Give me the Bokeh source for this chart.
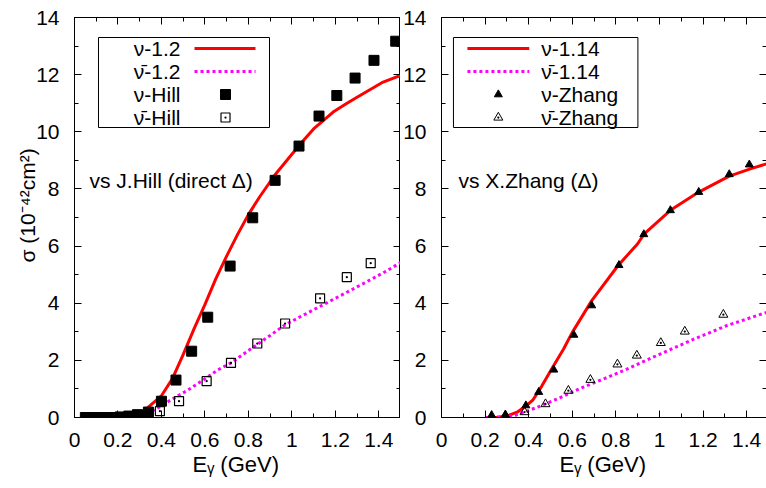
import math
from bokeh.plotting import figure
from bokeh.models import Range1d, LinearAxis, FixedTicker, CustomJSTickFormatter, Label, Title
from bokeh.layouts import row
from bokeh.embed import file_html
from bokeh.resources import INLINE

FONT = "Liberation Sans"
FS = "21px"

# ---------------- tick values ----------------
x_major = [0, 0.2, 0.4, 0.6, 0.8, 1.0, 1.2, 1.4]
x_minor = [0.1, 0.3, 0.5, 0.7, 0.9, 1.1, 1.3, 1.5]
y_major = [0, 2, 4, 6, 8, 10, 12, 14]
y_minor = [1, 3, 5, 7, 9, 11, 13]

# ---------------- left panel data (vs J.Hill) ----------------
nu12_x = [0.05, 0.10, 0.15, 0.20, 0.25, 0.28, 0.33, 0.40, 0.45, 0.50, 0.55, 0.60, 0.65, 0.70,
          0.75, 0.80, 0.85, 0.92, 1.04, 1.10, 1.19, 1.25, 1.30, 1.42, 1.50]
nu12_y = [0.0, 0.0, 0.0, 0.0, 0.01, 0.04, 0.30, 0.76, 1.35, 2.20, 3.10, 3.95, 4.85, 5.65,
          6.40, 7.10, 7.70, 8.47, 9.58, 10.10, 10.69, 10.98, 11.21, 11.74, 11.97]

nubar12_x = [0.28, 0.32, 0.35, 0.39, 0.44, 0.52, 0.60, 0.66, 0.72, 0.80, 0.90, 0.97, 1.10,
             1.20, 1.30, 1.42, 1.50]
nubar12_y = [0.0, 0.08, 0.19, 0.36, 0.60, 0.95, 1.35, 1.67, 1.91, 2.34, 2.87, 3.25, 3.77,
             4.17, 4.57, 5.06, 5.42]

hill_nu_x = [0.05, 0.065, 0.08, 0.095, 0.11, 0.125, 0.14, 0.155, 0.17, 0.21, 0.25, 0.29, 0.34,
             0.40, 0.467, 0.539, 0.613, 0.716, 0.82, 0.923, 1.033, 1.125, 1.207, 1.291, 1.378, 1.478]
hill_nu_y = [0, 0, 0, 0, 0, 0, 0, 0, 0, 0.02, 0.05, 0.10, 0.19,
             0.57, 1.31, 2.32, 3.51, 5.30, 6.99, 8.30, 9.50, 10.55, 11.27, 11.88, 12.50, 13.17]

hill_nubar_x = [0.265, 0.339, 0.393, 0.481, 0.608, 0.72, 0.841, 0.969, 1.13, 1.253, 1.363]
hill_nubar_y = [0.01, 0.06, 0.22, 0.57, 1.27, 1.91, 2.59, 3.29, 4.17, 4.91, 5.40]

# ---------------- right panel data (vs X.Zhang) ----------------
nu114_x = [0.20, 0.25, 0.30, 0.35, 0.39, 0.42, 0.46, 0.51, 0.56, 0.60, 0.69, 0.81, 0.90,
           0.93, 1.05, 1.18, 1.32, 1.42, 1.50]
nu114_y = [0.0, 0.0, 0.05, 0.20, 0.42, 0.62, 1.10, 1.76, 2.40, 2.98, 4.10, 5.32, 6.08,
           6.43, 7.25, 7.89, 8.45, 8.71, 8.90]

nubar114_x = [0.20, 0.30, 0.34, 0.38, 0.44, 0.54, 0.64, 0.75, 0.85, 1.00, 1.16, 1.31, 1.48, 1.50]
nubar114_y = [0.0, 0.02, 0.08, 0.19, 0.36, 0.68, 1.03, 1.37, 1.69, 2.21, 2.75, 3.22, 3.65, 3.70]

zhang_nu_x = [0.230, 0.293, 0.387, 0.446, 0.515, 0.607, 0.689, 0.814, 0.928, 1.050, 1.180, 1.320, 1.412]
zhang_nu_y = [0.08, 0.10, 0.42, 0.89, 1.67, 2.89, 3.92, 5.33, 6.41, 7.25, 7.89, 8.51, 8.85]

zhang_nubar_x = [0.293, 0.381, 0.477, 0.582, 0.683, 0.807, 0.896, 1.006, 1.116, 1.293]
zhang_nubar_y = [0.05, 0.19, 0.47, 0.94, 1.32, 1.86, 2.17, 2.61, 3.01, 3.60]

NU = "\u03bd"
NUBAR = "\u03bd\u0304"

left_labels = [NU + "-1.2", NUBAR + "-1.2", NU + "-Hill", NUBAR + "-Hill"]
right_labels = [NU + "-1.14", NUBAR + "-1.14", NU + "-Zhang", NUBAR + "-Zhang"]
x_title_text = "E\u1d67 (GeV)"
y_title_text = "\u03c3 (10\u207b\u2074\u00b2cm\u00b2)"

RED = "#ff0000"
MAG = "#ff00ff"

fmt = CustomJSTickFormatter(code="return String(Math.round(tick*10)/10);")
blank = CustomJSTickFormatter(code="return '';")


def style_axis(ax, ticks, minor, labels=True, line=True):
    ax.ticker = FixedTicker(ticks=ticks, minor_ticks=minor)
    ax.major_tick_in = 7
    ax.major_tick_out = 0
    ax.minor_tick_in = 4
    ax.minor_tick_out = 0
    ax.axis_line_color = "black" if line else None
    ax.major_tick_line_color = "black"
    ax.minor_tick_line_color = "black"
    ax.major_tick_line_width = 1
    ax.minor_tick_line_width = 1
    if labels:
        ax.formatter = fmt
        ax.major_label_text_font = FONT
        ax.major_label_text_font_size = FS
        ax.major_label_text_color = "black"
    else:
        ax.formatter = blank
        ax.major_label_text_font_size = "0px"
        ax.major_label_text_color = None
        ax.major_label_standoff = 0


def make_fig(width, mbl, mbr, xend, outline):
    p = figure(width=width, height=488, x_range=Range1d(0, xend), y_range=Range1d(0, 14),
               output_backend="svg", toolbar_location=None,
               min_border_left=mbl, min_border_right=mbr, min_border_top=17, min_border_bottom=71)
    p.grid.visible = False
    p.background_fill_color = "white"
    p.border_fill_color = "white"
    p.outline_line_color = "black" if outline else None
    style_axis(p.xaxis[0], x_major, x_minor)
    p.xaxis[0].major_label_standoff = 15
    style_axis(p.yaxis[0], y_major, y_minor)
    p.yaxis[0].major_label_standoff = 15
    top = LinearAxis()
    style_axis(top, x_major, x_minor, labels=False)
    p.add_layout(top, "above")
    rgt = LinearAxis()
    style_axis(rgt, y_major, y_minor, labels=False, line=outline)
    p.add_layout(rgt, "right")
    p.add_layout(Title(text=x_title_text, align="left", offset=118, vertical_align="top",
                       standoff=4, text_font=FONT, text_font_size="22px",
                       text_font_style="normal", text_color="black"), "below")
    return p


def lab(p, x, y, text, align="left", baseline="middle", size=FS):
    p.add_layout(Label(x=x, y=y, text=text, text_align=align, text_baseline=baseline,
                       text_font=FONT, text_font_size=size, text_color="black"))


# ================= left panel =================
p1 = make_fig(400, 74, 0, 1.5, True)
p1.add_layout(Title(text=y_title_text, align="left", offset=155, vertical_align="bottom",
                    standoff=-10, text_font=FONT, text_font_size=FS,
                    text_font_style="normal", text_color="black"), "left")

p1.line(nu12_x, nu12_y, line_color=RED, line_width=3)
p1.line(nubar12_x, nubar12_y, line_color=MAG, line_width=3, line_dash="3 3")
p1.scatter(hill_nu_x, hill_nu_y, marker="square", size=10, fill_color="black", line_color="black")
p1.scatter(hill_nubar_x, hill_nubar_y, marker="square_dot", size=9, fill_color=None,
           line_color="black", line_width=1.2)

# legend (left)
rows = [12.915, 12.11, 11.305, 10.5]
p1.quad(left=[0.1104], right=[0.8973], top=[13.3], bottom=[10.15], fill_color="white",
        line_color="black", line_width=1)
p1.line([0.5522, 0.8328], [rows[0], rows[0]], line_color=RED, line_width=3)
p1.line([0.5522, 0.8328], [rows[1], rows[1]], line_color=MAG, line_width=3, line_dash="3 3")
p1.scatter([0.6948], [rows[2]], marker="square", size=10, fill_color="black", line_color="black")
p1.scatter([0.6948], [rows[3]], marker="square_dot", size=9, fill_color=None,
           line_color="black", line_width=1.2)
for t, yy in zip(left_labels, rows):
    lab(p1, 0.4877, yy, t, align="right")

lab(p1, 0.069, 8.30, "vs J.Hill (direct \u0394)")

# ================= right panel =================
p2 = make_fig(366, 40, 0, 326 / 218.67, False)

p2.line(nu114_x, nu114_y, line_color=RED, line_width=3)
p2.line(nubar114_x, nubar114_y, line_color=MAG, line_width=3, line_dash="3 3")
p2.scatter(zhang_nu_x, zhang_nu_y, marker="triangle", size=8, fill_color="black", line_color="black")
p2.scatter(zhang_nubar_x, zhang_nubar_y, marker="triangle_dot", size=9, fill_color=None,
           line_color="black", line_width=1)

p2.quad(left=[0.0549], right=[0.9009], top=[13.3], bottom=[10.15], fill_color="white",
        line_color="black", line_width=1)
p2.line([0.1189, 0.4024], [rows[0], rows[0]], line_color=RED, line_width=3)
p2.line([0.1189, 0.4024], [rows[1], rows[1]], line_color=MAG, line_width=3, line_dash="3 3")
p2.scatter([0.2607], [rows[2]], marker="triangle", size=8, fill_color="black", line_color="black")
p2.scatter([0.2607], [rows[3]], marker="triangle_dot", size=9, fill_color=None,
           line_color="black", line_width=1)
for t, yy in zip(right_labels, rows):
    lab(p2, 0.4573, yy, t, align="left")

lab(p2, 0.078, 8.30, "vs X.Zhang (\u0394)")

layout = row(p1, p2, spacing=0)
open("out.html", "w").write(file_html(layout, INLINE))
